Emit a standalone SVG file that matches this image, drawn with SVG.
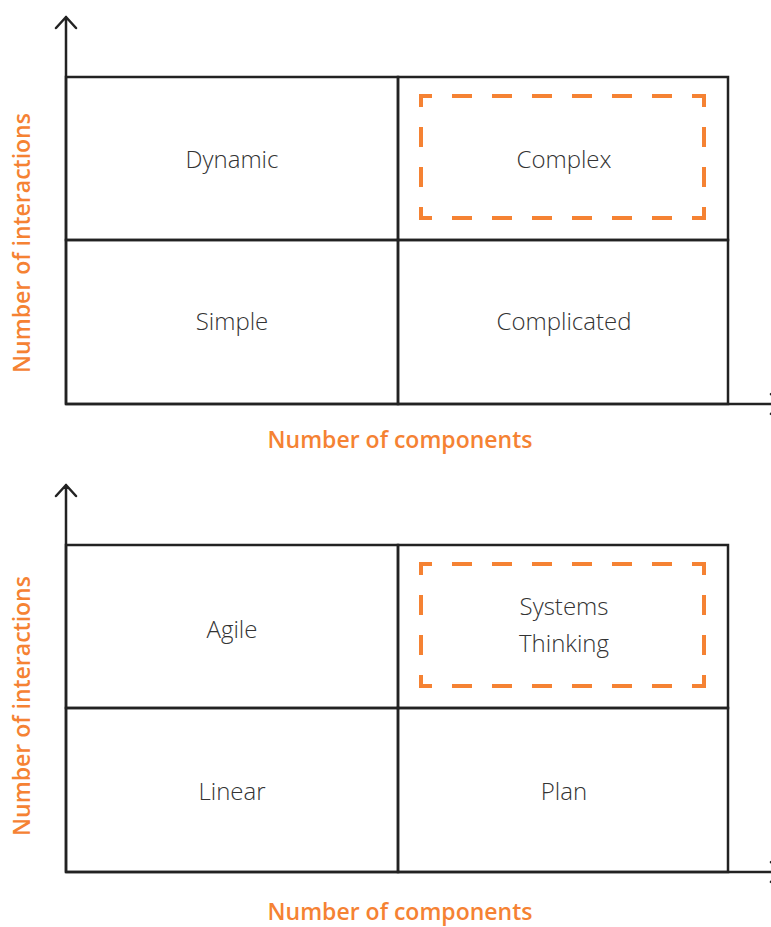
<svg xmlns="http://www.w3.org/2000/svg" width="771" height="927" viewBox="0 0 771 927">
<style>
.ln{stroke:#222;stroke-width:2.5;fill:none}
.ax{stroke:#222;stroke-width:2.5;fill:none;stroke-linecap:round;stroke-linejoin:round}
.ds{stroke:#F58233;stroke-width:4;fill:none;stroke-dasharray:20 20;stroke-dashoffset:7}
.t{font-family:"Open Sans",Lato,"Liberation Sans",sans-serif;font-weight:300;font-size:24px;fill:#333;text-anchor:middle}
.al{font-family:"Open Sans",Lato,"Liberation Sans",sans-serif;font-weight:600;font-size:23px;fill:#F58233;text-anchor:middle}
</style>
<rect width="771" height="927" fill="#fff"/>
<g id="chart1">
<g id="axes1">
<path class="ax" d="M66,404 V17 M56,28 L66,17 L76,28 M66,404 H782 M771,394 L782,404 L771,414"/>
</g>
<g id="cell-dynamic"><rect class="ln" x="66" y="77" width="332" height="163"/><text class="t" x="232" y="168">Dynamic</text></g>
<g id="cell-complex"><rect class="ln" x="398" y="77" width="330" height="163"/>
<path class="ds" d="M419,96 H706 M419,218 H706"/><path class="ds" d="M421,94 V220 M704,94 V220"/>
<text class="t" x="564" y="168">Complex</text></g>
<g id="cell-simple"><rect class="ln" x="66" y="240" width="332" height="164"/><text class="t" x="232" y="330">Simple</text></g>
<g id="cell-complicated"><rect class="ln" x="398" y="240" width="330" height="164"/><text class="t" x="564" y="330">Complicated</text></g>
<text class="al" x="400" y="448">Number of components</text>
<text class="al" transform="translate(30,243) rotate(-90)">Number of interactions</text>
</g>
<g id="chart2">
<g id="axes2">
<path class="ax" d="M66,872 V485 M56,496 L66,485 L76,496 M66,872 H782 M771,862 L782,872 L771,882"/>
</g>
<g id="cell-agile"><rect class="ln" x="66" y="545" width="332" height="163"/><text class="t" x="232" y="638">Agile</text></g>
<g id="cell-systems"><rect class="ln" x="398" y="545" width="330" height="163"/>
<path class="ds" d="M419,564 H706 M419,686 H706"/><path class="ds" d="M421,562 V688 M704,562 V688"/>
<text class="t" x="564" y="615">Systems</text><text class="t" x="564" y="652">Thinking</text></g>
<g id="cell-linear"><rect class="ln" x="66" y="708" width="332" height="164"/><text class="t" x="232" y="800">Linear</text></g>
<g id="cell-plan"><rect class="ln" x="398" y="708" width="330" height="164"/><text class="t" x="564" y="800">Plan</text></g>
<text class="al" x="400" y="920">Number of components</text>
<text class="al" transform="translate(30,706) rotate(-90)">Number of interactions</text>
</g>
</svg>
